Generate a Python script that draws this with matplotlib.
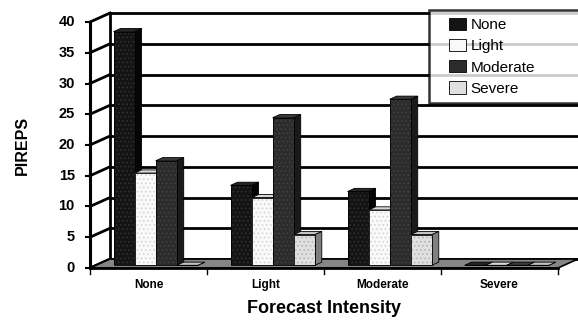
import matplotlib.pyplot as plt
from matplotlib.patches import Polygon, Patch, Rectangle
from matplotlib.legend_handler import HandlerPatch

plt.rcParams['font.family'] = ['Liberation Sans', 'DejaVu Sans']
plt.rcParams['hatch.linewidth'] = 0.6

categories = ['None', 'Light', 'Moderate', 'Severe']
series = ['None', 'Light', 'Moderate', 'Severe']
none_vals = [38, 13, 12, 0]
light_vals = [15, 11, 9, 0]
moderate_vals = [17, 24, 27, 0]
severe_vals = [0, 5, 5, 0]
yticks = [0, 5, 10, 15, 20, 25, 30, 35, 40]

values = [none_vals, light_vals, moderate_vals, severe_vals]
front_cols = ['#141414', '#f9f9f9', '#2c2c2c', '#e0e0e0']
side_cols = ['#050505', '#bdbdbd', '#1a1a1a', '#7f7f7f']
top_cols = ['#262626', '#d9d9d9', '#3a3a3a', '#c4c4c4']
hatch_cols = ['#333333', '#d0d0d0', '#444444', '#b0b0b0']

# depth of the 3d box in data units
DX, DY = 0.171, 1.46
ymax = 40

fig = plt.figure(figsize=(5.78, 3.20), dpi=100)
ax = fig.add_axes([0, 0, 1, 1])
ax.set_xlim(-0.769, 4.171)
ax.set_ylim(-8.46, 43.58)
ax.axis('off')

n = len(categories)

# back wall + gridlines
ax.add_patch(Polygon([(DX, DY), (n + DX, DY), (n + DX, ymax + DY), (DX, ymax + DY)],
                     closed=True, fc='white', ec='none', zorder=0))
for v in yticks:
    ax.plot([DX, n + DX], [v + DY, v + DY], color='black', lw=2, zorder=1)
    ax.plot([0, DX], [v, v + DY], color='black', lw=2, zorder=1)
    ax.plot([-0.035, 0], [v, v], color='black', lw=1.5, zorder=1)
    ax.text(-0.13, v, str(v), ha='right', va='center', fontsize=10.5, fontweight='bold')
ax.plot([DX, DX], [DY, ymax + DY], color='black', lw=2, zorder=1)
ax.plot([0, 0], [0, ymax], color='black', lw=2.2, zorder=6)

# floor
ax.add_patch(Polygon([(0, 0), (n, 0), (n + DX, DY), (DX, DY)], closed=True,
                     fc='#858585', ec='black', lw=1.2, zorder=2))
ax.plot([0, n], [0, 0], color='black', lw=2, zorder=6)
for i in range(n + 1):
    ax.plot([i, i], [0, -0.9], color='black', lw=1, zorder=6)

# bars
bw = 0.18
f0, f1 = 0.3, 0.65
for i in range(n):
    x_start = i + 0.5 - 2 * bw + f0 * DX + 0.01
    for j in range(len(series)):
        v = values[j][i]
        x0 = x_start + j * bw
        x1 = x0 + bw
        yb = f0 * DY
        ddx = (f1 - f0) * DX
        ddy = (f1 - f0) * DY
        z = 3 + i * 0.01
        # side
        ax.add_patch(Polygon([(x1, yb), (x1 + ddx, yb + ddy), (x1 + ddx, yb + ddy + v), (x1, yb + v)],
                             closed=True, fc=side_cols[j], ec='black', lw=0.6, zorder=z))
        # top
        ax.add_patch(Polygon([(x0, yb + v), (x1, yb + v), (x1 + ddx, yb + ddy + v), (x0 + ddx, yb + ddy + v)],
                             closed=True, fc=top_cols[j], ec='black', lw=0.6, zorder=z))
        # front
        ax.add_patch(Polygon([(x0, yb), (x1, yb), (x1, yb + v), (x0, yb + v)],
                             closed=True, fc=front_cols[j], ec='none', zorder=z))
        ax.add_patch(Polygon([(x0, yb), (x1, yb), (x1, yb + v), (x0, yb + v)],
                             closed=True, fc='none', ec=hatch_cols[j], lw=0, hatch='....', zorder=z))
        ax.add_patch(Polygon([(x0, yb), (x1, yb), (x1, yb + v), (x0, yb + v)],
                             closed=True, fc='none', ec='black', lw=0.6, zorder=z))

for i, c in enumerate(categories):
    ax.text(i + 0.5, -2.8, c, ha='center', va='center', fontsize=8.5, fontweight='bold')

ax.text(-0.58, 20, 'PIREPS', rotation=90, ha='center', va='center', fontsize=11.5, fontweight='bold')
ax.text(2.0, -6.6, 'Forecast Intensity', ha='center', va='center', fontsize=13, fontweight='bold')


def indented_box(legend, orig_handle, xdescent, ydescent, width, height, fontsize):
    w = height * 1.35
    return Rectangle((width - w - xdescent, -ydescent), w, height)


handles = [Patch(fc=front_cols[j], ec='black', lw=0.6) for j in range(len(series))]
leg = ax.legend(handles, series, loc='upper left',
                bbox_to_anchor=(429 / 578, 1 - 10 / 320, 160 / 578, 0), mode='expand',
                fontsize=11, frameon=True, fancybox=False, handlelength=1.9, handleheight=0.85,
                handletextpad=0.3, labelspacing=0.45, borderpad=0.5, borderaxespad=0,
                handler_map={Patch: HandlerPatch(patch_func=indented_box)})
leg.get_frame().set_edgecolor('black')
leg.get_frame().set_linewidth(1.8)
leg.set_zorder(10)

fig.savefig('out.png', dpi=100)
